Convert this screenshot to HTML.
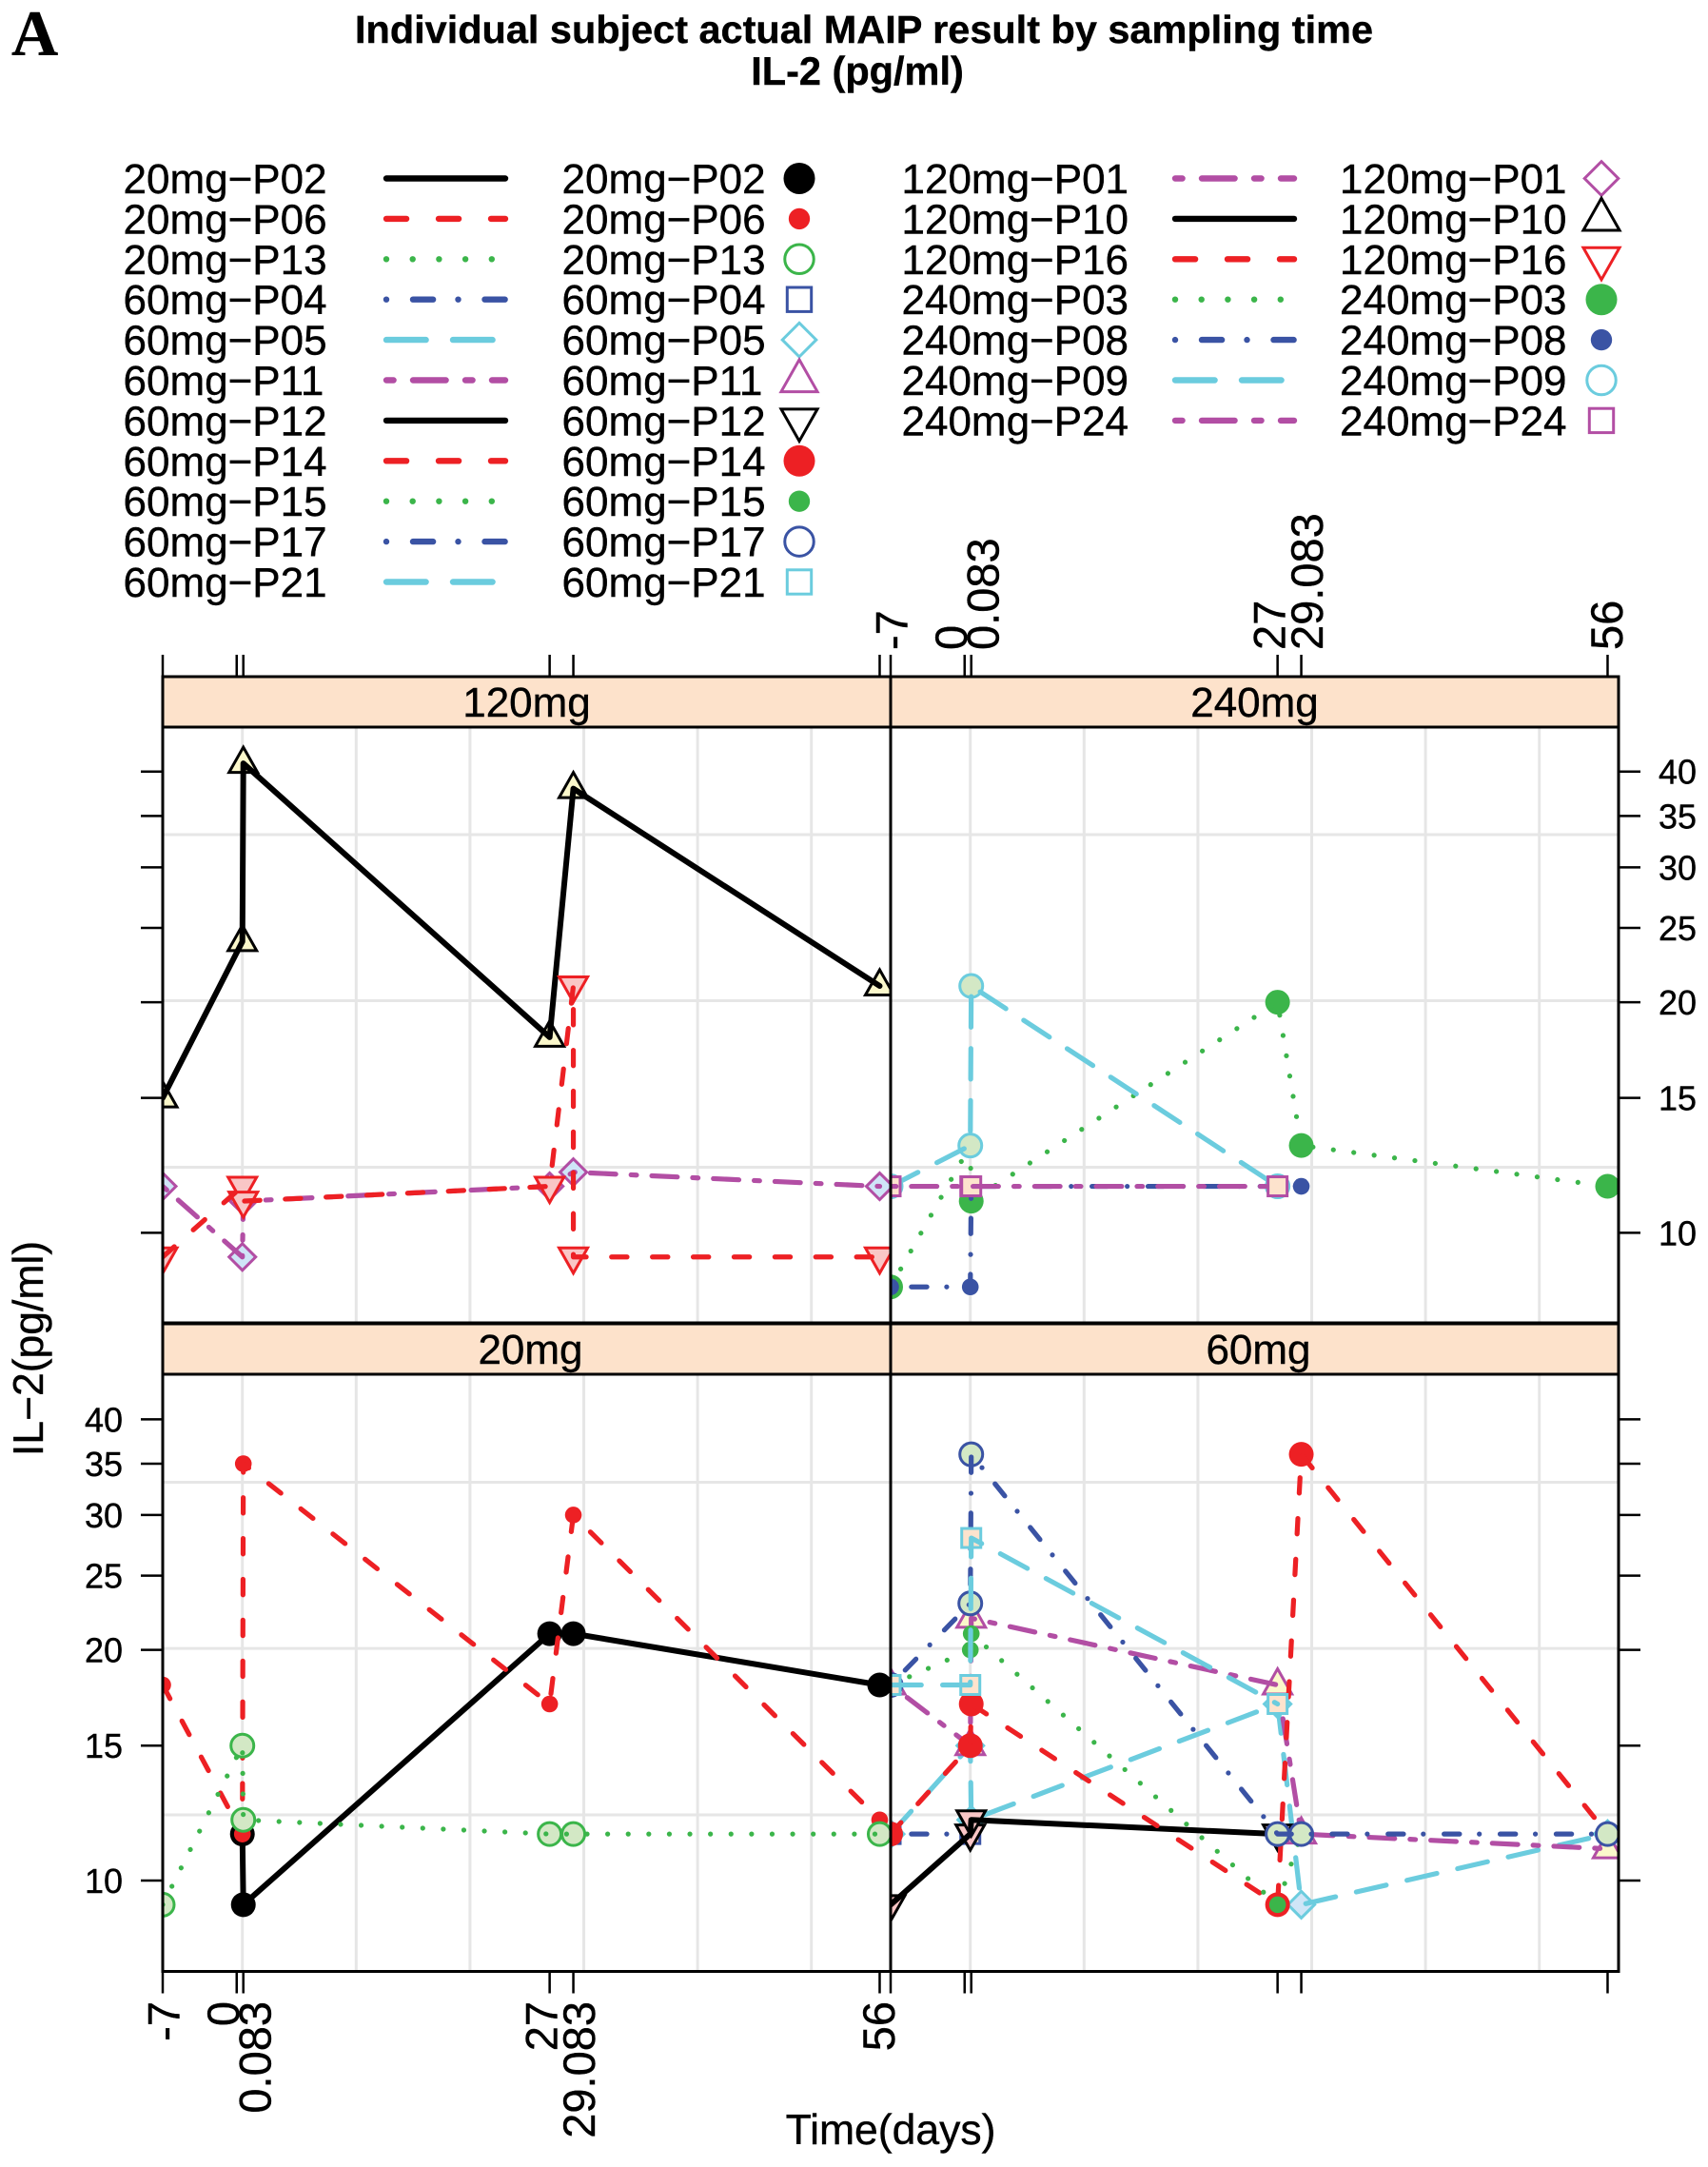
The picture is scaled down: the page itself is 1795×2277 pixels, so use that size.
<!DOCTYPE html>
<html lang="en">
<head>
<meta charset="utf-8">
<title>Individual subject actual MAIP result by sampling time - IL-2</title>
<style>
html,body{margin:0;padding:0;background:#fff;}
svg{display:block;}
text{font-family:"Liberation Sans",sans-serif;fill:#000;stroke:#000;stroke-width:0.4px;}
</style>
</head>
<body>
<svg id="chart" xmlns="http://www.w3.org/2000/svg" width="1795" height="2277" viewBox="0 0 1795 2277">
  <rect x="0" y="0" width="1795" height="2277" fill="#fff"/>
  <text x="12" y="58" style="font-family:'Liberation Serif',serif;font-weight:bold;font-size:68px;">A</text>
  <text x="908" y="45" text-anchor="middle" textLength="1070" lengthAdjust="spacingAndGlyphs" style="font-weight:bold;font-size:41px;">Individual subject actual MAIP result by sampling time</text>
  <text x="901" y="89" text-anchor="middle" style="font-weight:bold;font-size:41.5px;">IL-2 (pg/ml)</text>
  <text transform="translate(45,1417) rotate(-90)" text-anchor="middle" style="font-size:44.5px;">IL−2(pg/ml)</text>
  <text x="936" y="2253" text-anchor="middle" style="font-size:44.5px;">Time(days)</text>
  <g id="plot"></g>
  <g id="legend"></g>
</svg>
<script>
// ---- Data ----
const times = [-7, 0, 0.083, 27, 29.083, 29.083, 56];
const subjects = ['20mg-P02','20mg-P06','20mg-P13','60mg-P04','60mg-P05','60mg-P11','60mg-P12','60mg-P14','60mg-P15','60mg-P17','60mg-P21','120mg-P01','120mg-P10','120mg-P16','240mg-P03','240mg-P08','240mg-P09','240mg-P24'];
const panelNames = ['120mg','240mg','20mg','60mg'];

const v20P02 = [null, 11.5, 9.3, 21, 21, null, 18];
const v20P06 = [18, 11.5, 35, 17, 30, null, 12];
const v20P13 = [9.3, 15, 12, 11.5, 11.5, null, 11.5];
const v60P04 = [11.5, 11.5, null, null, null, null, null];
const v60P05 = [11.5, 15, 12, 17, 9.3, null, 11.5];
const v60P11 = [18, 15, 22, 18, 11.5, null, 11];
const v60P12 = [9.3, 11.5, 12, 11.5, null, null, null];
const v60P14 = [11.5, 15, 17, 9.3, 36, null, 11.5];
const v60P15 = [18, 20, 21, 9.3, 11.5, null, null];
const v60P17 = [18, 23, 36, 11.5, 11.5, null, 11.5];
const v60P21 = [18, 18, 28, 17, null, null, null];
const v120P01 = [11.5, 9.3, 11, 11.5, 12, null, 11.5];
const v120P10 = [15, 24, 41, 18, 38, null, 21];
const v120P16 = [9.3, 11.5, 11, 11.5, 21, 9.3, 9.3];
const v240P03 = [8.5, 13, 11, 20, 13, null, 11.5];
const v240P08 = [8.5, 8.5, 11.5, 11.5, 11.5, null, null];
const v240P09 = [11.5, 13, 21, 11.5, null, null, null];
const v240P24 = [11.5, 11.5, 11.5, 11.5, null, null, null];

const xTickDays = [-7, -0.5, 0.083, 27, 29.083, 56];
const xLabelDays = [-6.86, -1.65, 1.15, 26.33, 29.62, 55.96];
const xTickLabels = ['-7', '0', '0.083', '27', '29.083', '56'];
const yTicks = [10, 15, 20, 25, 30, 35, 40];
const yTickLabels = ['10', '15', '20', '25', '30', '35', '40'];
const gridDays = [0, 10, 20, 30, 40, 50];
const gridLevels = [12.18, 20.09, 33.1];

const allValues = [v20P02,v20P06,v20P13,v60P04,v60P05,v60P11,v60P12,v60P14,v60P15,v60P17,v60P21,v120P01,v120P10,v120P16,v240P03,v240P08,v240P09,v240P24];

// ---- Styles ----
const colorCycle = ['#000000','#ed2024','#3bb54a','#3a53a4','#6bccde','#b24ea4'];
const dashCycle = [[], [27.5,27.5], [6,21.7], [6,22,27.5,20], [48,22], [14,14,41,14]];
const symbolCycle = ['big','small','circle','square','diamond','up','down'];
const fills = {circle:'#d3e8c5', square:'#fde3cd', diamond:'#cfe5f7', up:'#fbf8cb', down:'#f9c6c6'};

// ---- Geometry ----
const colLeft = [171, 936];
const rowStrip = [711, 1391];
const rowTop = [764, 1444];
const rowBottom = [1390, 2071.5];
const rowTen = [1295.4, 1976];
const panelW = 765;
const dayPx = 11.96;
const decadePx = 805;

function xPix(day, col) { return colLeft[col] + (day + 7) * dayPx; }
function yPix(v, row) { return rowTen[row] - decadePx * Math.log10(v / 10); }

const SVGNS = 'http://www.w3.org/2000/svg';
function mk(parent, tag, name, attrs) {
  const el = document.createElementNS(SVGNS, tag);
  
  
  for (const k in attrs) el.setAttribute(k, attrs[k]);
  parent.appendChild(el);
  return el;
}
function dashAttr(pattern, w, scale) {
  if (!pattern.length) return 'none';
  const out = [];
  for (let i = 0; i < pattern.length; i += 2) {
    const on = pattern[i] * scale;
    const off = pattern[i + 1] * scale;
    const drawn = Math.max(on - w, 0.01);
    out.push(drawn, off + on - drawn);
  }
  return out.join(' ');
}
function drawMarker(parent, name, type, x, y, color, k, fillOpen, sw) {
  const fill = fillOpen ? fills[type] : 'none';
  if (type === 'big') return mk(parent, 'circle', name, {cx:x, cy:y, r:13*k, fill:color});
  if (type === 'small') return mk(parent, 'circle', name, {cx:x, cy:y, r:8.8*k, fill:color});
  if (type === 'circle') return mk(parent, 'circle', name, {cx:x, cy:y, r:12*k, fill:fill, stroke:color, 'stroke-width':sw});
  if (type === 'square') return mk(parent, 'rect', name, {x:x-10*k, y:y-10*k, width:20*k, height:20*k, fill:fill, stroke:color, 'stroke-width':sw});
  let pts;
  if (type === 'diamond') pts = [[0,-14],[14,0],[0,14],[-14,0]];
  if (type === 'up') pts = [[0,-17],[15,9.5],[-15,9.5]];
  if (type === 'down') pts = [[-15,-9.5],[15,-9.5],[0,17]];
  const str = pts.map(function (p) { return (x + p[0]*k) + ',' + (y + p[1]*k); }).join(' ');
  return mk(parent, 'polygon', name, {points:str, fill:fill, stroke:color, 'stroke-width':sw, 'stroke-linejoin':'miter'});
}

const plot = document.getElementById('plot');
const defs = mk(plot, 'defs', 'clip-definitions', {});

panelNames.forEach(function (pname, pi) {
  const col = pi % 2;
  const row = pi < 2 ? 0 : 1;
  const L = colLeft[col];
  const T = rowTop[row];
  const B = rowBottom[row];
  const g = mk(plot, 'g', 'panel-' + pname, {});

  const clip = mk(defs, 'clipPath', 'clip-' + pname, {id:'clip' + pi});
  mk(clip, 'rect', 'clip-rect-' + pname, {x:L, y:T, width:panelW, height:B-T});

  mk(g, 'rect', 'panel-background-' + pname, {x:L, y:T, width:panelW, height:B-T, fill:'#fff'});

  gridDays.forEach(function (d) {
    const x = xPix(d, col);
    mk(g, 'line', 'grid-vertical', {x1:x, x2:x, y1:T, y2:B, stroke:'#e6e6e6', 'stroke-width':3});
  });
  gridLevels.forEach(function (v) {
    const y = yPix(v, row);
    mk(g, 'line', 'grid-horizontal', {x1:L, x2:L+panelW, y1:y, y2:y, stroke:'#e6e6e6', 'stroke-width':3});
  });

  const data = mk(g, 'g', 'series-group-' + pname, {'clip-path':'url(#clip' + pi + ')'});
  subjects.forEach(function (s, si) {
    if (s.split('-')[0] !== pname) return;
    const color = colorCycle[si % 6];
    const sym = symbolCycle[si % 7];
    const vals = allValues[si];
    const sg = mk(data, 'g', 'series-' + s, {});
    const pts = [];
    vals.forEach(function (v, i) {
      if (v === null) return;
      const x = xPix(times[i], col);
      const y = yPix(v, row);
      pts.push(x + ',' + y);
      drawMarker(sg, 'point-' + s, sym, x, y, color, 1, true, 3);
    });
    const w = color === '#000000' ? 6 : 5.2;
    mk(sg, 'polyline', 'line-' + s, {points:pts.join(' '), fill:'none', stroke:color, 'stroke-width':w,
      'stroke-linecap':'round', 'stroke-linejoin':'round', 'stroke-dasharray':dashAttr(dashCycle[si % 6], w, 0.78)});
  });

  // strip
  mk(g, 'rect', 'strip-' + pname, {x:L, y:rowStrip[row], width:panelW, height:T-rowStrip[row], fill:'#fde2cb', stroke:'#000', 'stroke-width':3});
  const labelShift = row === 1 ? 4 : 0;
  const stripText = mk(g, 'text', 'strip-label-' + pname, {x:L+panelW/2+labelShift, y:T-11, 'text-anchor':'middle', style:'font-size:44px;'});
  stripText.textContent = pname;

  // frame
  mk(g, 'rect', 'panel-frame-' + pname, {x:L, y:T, width:panelW, height:B-T, fill:'none', stroke:'#000', 'stroke-width':3});

  // x ticks on outer edges
  xTickDays.forEach(function (d) {
    const x = xPix(d, col);
    if (row === 0) mk(g, 'line', 'x-tick-top', {x1:x, x2:x, y1:rowStrip[0], y2:rowStrip[0]-23, stroke:'#000', 'stroke-width':2.5});
    else mk(g, 'line', 'x-tick-bottom', {x1:x, x2:x, y1:B, y2:B+23, stroke:'#000', 'stroke-width':2.5});
  });
  if (row === 0 && col === 1) {
    xLabelDays.forEach(function (d, i) {
      const t = mk(g, 'text', 'x-tick-label-top', {transform:'translate(' + (xPix(d, col)+16) + ',683) rotate(-90)', 'text-anchor':'start', style:'font-size:47px;'});
      t.textContent = xTickLabels[i];
    });
  }
  if (row === 1 && col === 0) {
    xLabelDays.forEach(function (d, i) {
      const t = mk(g, 'text', 'x-tick-label-bottom', {transform:'translate(' + (xPix(d, col)+16) + ',2103) rotate(-90)', 'text-anchor':'end', style:'font-size:47px;'});
      t.textContent = xTickLabels[i];
    });
  }

  // y ticks on outer edges
  yTicks.forEach(function (v, i) {
    const y = yPix(v, row);
    if (col === 0) mk(g, 'line', 'y-tick-left', {x1:L, x2:L-23, y1:y, y2:y, stroke:'#000', 'stroke-width':2.5});
    else mk(g, 'line', 'y-tick-right', {x1:L+panelW, x2:L+panelW+23, y1:y, y2:y, stroke:'#000', 'stroke-width':2.5});
    if (col === 0 && row === 1) {
      const t = mk(g, 'text', 'y-tick-label-left', {x:129, y:y+13, 'text-anchor':'end', style:'font-size:36px;'});
      t.textContent = yTickLabels[i];
    }
    if (col === 1 && row === 0) {
      const t = mk(g, 'text', 'y-tick-label-right', {x:1743, y:y+13, 'text-anchor':'start', style:'font-size:36px;'});
      t.textContent = yTickLabels[i];
    }
  });
});

// ---- Legend ----
const legend = document.getElementById('legend');
const legendRowStep = 42.4;
const legendFirstRow = 187.5;
subjects.forEach(function (s, si) {
  const left = si < 11;
  const r = left ? si : si - 11;
  const y = legendFirstRow + r * legendRowStep;
  const text = s.replace('-', '\u2212');
  const color = colorCycle[si % 6];
  const g = mk(legend, 'g', 'legend-entry-' + s, {});
  const t1 = mk(g, 'text', 'legend-line-label', {x:left ? 129.5 : 947.5, y:y+15.5, style:'font-size:44px;'});
  t1.textContent = text;
  const lx1 = left ? 406 : 1235;
  const lx2 = left ? 531 : 1360;
  mk(g, 'line', 'legend-line-sample', {x1:lx1, x2:lx2, y1:y, y2:y, stroke:color, 'stroke-width':6.4,
    'stroke-linecap':'round', 'stroke-dasharray':dashAttr(dashCycle[si % 6], 6.4, 1)});
  const t2 = mk(g, 'text', 'legend-symbol-label', {x:left ? 590.5 : 1408, y:y+15.5, style:'font-size:44px;'});
  t2.textContent = text;
  drawMarker(g, 'legend-symbol', symbolCycle[si % 7], left ? 840 : 1683, y, color, 1.27, false, 3);
});
</script>
</body>
</html>
